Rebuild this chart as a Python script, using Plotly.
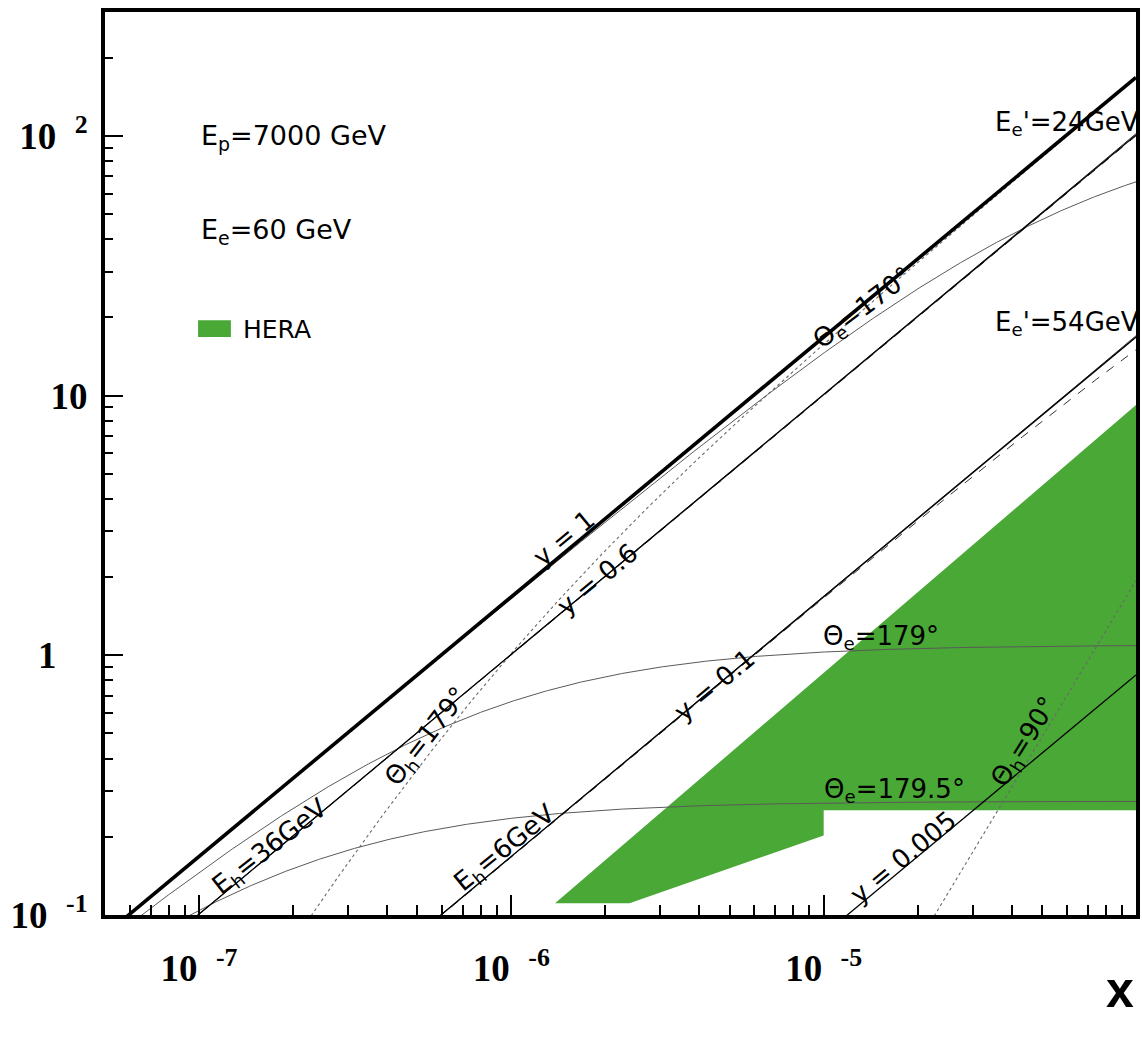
import numpy as np
import plotly.graph_objects as go

# Beam energies (GeV)
EP = 7000.0
EE = 60.0
S = 4.0 * EE * EP

# Isoline parameters
Y_LINES = [1.0, 0.6, 0.1, 0.005]
THETA_E = [170.0, 179.0, 179.5]      # scattered electron angle (deg)
E_E_PRIME = [24.0, 54.0]             # scattered electron energy (GeV)
THETA_H = [179.0, 90.0]              # hadronic final state angle (deg)
E_H = [36.0, 6.0]                    # hadronic final state energy (GeV)

# HERA kinematic coverage outline
HERA_X = [1.38e-6, 2.39e-6, 1.0e-5, 1.0e-5, 1.0e-4, 1.0e-4]
HERA_Q2 = [0.111, 0.111, 0.2025, 0.253, 0.253, 9.2]

# Legend swatch corners for the HERA entry
SWATCH_X = [9.93e-8, 1.265e-7]
SWATCH_Q2 = [16.8, 19.5]

# Axis extent and ticks
X_MIN, X_MAX = 5e-8, 1e-4
Q2_MIN, Q2_MAX = 0.1, 300.0
X_TICKS = [1e-7, 1e-6, 1e-5]
X_TICK_TEXT = ["10\u2002<sup>-7</sup>", "10\u2002<sup>-6</sup>", "10\u2002<sup>-5</sup>"]
Y_TICKS = [0.1, 1.0, 10.0, 100.0]
Y_TICK_TEXT = ["10\u2002<sup>-1</sup>", "", "10", "10\u2002<sup>2</sup>"]
Y_UNIT_LABEL = "1"   # label of the Q2 = 1 tick, set slightly left of the others

HERA_GREEN = "#49a836"

x = np.logspace(np.log10(X_MIN), np.log10(X_MAX), 600)
sx = S * x


def q2_const_y(y):
    return sx * y


def q2_const_theta_e(theta):
    t2 = np.tan(np.radians(theta) / 2.0) ** 2
    return 1.0 / (1.0 / sx + t2 / (4.0 * EE ** 2))


def q2_const_ee_prime(ep):
    return sx * (1.0 - ep / EE) / (1.0 - EP * x / EE)


def q2_const_theta_h(theta):
    b = 4.0 * EE ** 2 / np.tan(np.radians(theta) / 2.0) ** 2
    return sx ** 2 / (sx + b)


def q2_const_eh(eh):
    y = (eh - x * EP) / (EE - x * EP)
    return sx * y


fig = go.Figure()

# HERA region
fig.add_trace(go.Scatter(
    x=HERA_X, y=HERA_Q2, fill="toself", mode="none",
    fillcolor=HERA_GREEN, hoverinfo="skip", showlegend=False))

# HERA legend swatch
fig.add_trace(go.Scatter(
    x=[SWATCH_X[0], SWATCH_X[1], SWATCH_X[1], SWATCH_X[0]],
    y=[SWATCH_Q2[0], SWATCH_Q2[0], SWATCH_Q2[1], SWATCH_Q2[1]],
    fill="toself", mode="none", fillcolor=HERA_GREEN,
    hoverinfo="skip", showlegend=False))

line_sets = []
for th in THETA_E:
    line_sets.append((q2_const_theta_e(th), dict(color="#5a5a5a", width=1.0)))
for th in THETA_H:
    line_sets.append((q2_const_theta_h(th), dict(color="#6a6a6a", width=1.1, dash="dot")))
for eh in E_H:
    line_sets.append((q2_const_eh(eh), dict(color="#333333", width=1.0, dash="dash")))
for ep in E_E_PRIME:
    line_sets.append((q2_const_ee_prime(ep), dict(color="#303030", width=1.0)))
for yv in Y_LINES:
    w = 3.6 if yv == 1.0 else 1.3
    line_sets.append((q2_const_y(yv), dict(color="black", width=w)))

for q2, style in line_sets:
    q2 = np.where(q2 > 0, q2, np.nan)
    fig.add_trace(go.Scatter(x=x, y=q2, mode="lines", line=style,
                             hoverinfo="skip", showlegend=False))

LABEL_FONT = dict(family="DejaVu Sans", size=26, color="black")

# (text, x, Q2, angle, xanchor)
labels = [
    ("y = 1", 1.476e-6, 2.82, -39.6, "center"),
    ("y = 0.6", 1.89e-6, 1.96, -39.6, "center"),
    ("y = 0.1", 4.47e-6, 0.766, -39.6, "center"),
    ("y = 0.005", 1.80e-5, 0.167, -39.6, "center"),
    ("\u0398<sub>e</sub>=170\u00b0", 1.34e-5, 21.7, -37, "center"),
    ("\u0398<sub>e</sub>=179\u00b0", 1.53e-5, 1.17, 0, "center"),
    ("\u0398<sub>e</sub>=179.5\u00b0", 1.69e-5, 0.302, 0, "center"),
    ("\u0398<sub>h</sub>=90\u00b0", 4.40e-5, 0.462, -58, "center"),
    ("\u0398<sub>h</sub>=179\u00b0", 5.36e-7, 0.483, -52, "center"),
    ("E<sub>h</sub>=36GeV", 1.69e-7, 0.182, -38, "center"),
    ("E<sub>h</sub>=6GeV", 9.57e-7, 0.180, -39, "center"),
    ("E<sub>e</sub>'=24GeV", 3.48e-5, 112.0, 0, "left"),
    ("E<sub>e</sub>'=54GeV", 3.48e-5, 18.9, 0, "left"),
]

annotations = []
for text, lx, lq, ang, xa in labels:
    annotations.append(dict(
        x=np.log10(lx), y=np.log10(lq), xref="x", yref="y", text=text,
        textangle=ang, showarrow=False, xanchor=xa, yanchor="middle",
        font=LABEL_FONT))

TICK_FONT = dict(family="Liberation Serif", size=37, color="black", weight="bold")

LEG_FONT = dict(family="DejaVu Sans", size=27, color="black")
annotations += [
    dict(x=np.log10(1.0e-7), y=np.log10(99.0), xref="x", yref="y",
         text="E<sub>p</sub>=7000 GeV", showarrow=False, xanchor="left",
         yanchor="middle", font=LEG_FONT),
    dict(x=np.log10(1.0e-7), y=np.log10(42.7), xref="x", yref="y",
         text="E<sub>e</sub>=60 GeV", showarrow=False, xanchor="left",
         yanchor="middle", font=LEG_FONT),
    dict(x=np.log10(1.36e-7), y=np.log10(18.0), xref="x", yref="y",
         text="HERA", showarrow=False, xanchor="left", yanchor="middle",
         font=dict(family="DejaVu Sans", size=25, color="black")),
    dict(x=1.0, y=-0.083, xref="paper", yref="paper", text="x",
         showarrow=False, xanchor="right", yanchor="middle",
         font=dict(family="Liberation Sans", size=50, color="black", weight="bold")),
    dict(x=-0.045, y=0.0, xref="paper", yref="y", text=Y_UNIT_LABEL,
         showarrow=False, xanchor="right", yanchor="middle", font=TICK_FONT),
]

x_minor = [d * m for d in [1e-8, 1e-7, 1e-6, 1e-5] for m in range(2, 10)
           if X_MIN < d * m < X_MAX]
y_minor = [d * m for d in [0.1, 1.0, 10.0, 100.0] for m in range(2, 10)
           if Q2_MIN < d * m < Q2_MAX]

fig.update_layout(
    width=1142, height=1037,
    margin=dict(l=105, r=2, t=12, b=122),
    paper_bgcolor="white", plot_bgcolor="white",
    annotations=annotations,
    xaxis=dict(
        type="log", range=[np.log10(X_MIN), np.log10(X_MAX)],
        showline=True, linewidth=4, linecolor="black", mirror=True,
        ticks="inside", ticklen=20, tickwidth=1.5, tickcolor="black",
        tickvals=X_TICKS, ticktext=X_TICK_TEXT, tickfont=TICK_FONT,
        ticklabelstandoff=18,
        showgrid=False, zeroline=False,
        minor=dict(ticks="inside", ticklen=10, tickwidth=1.5,
                   tickcolor="black", tickvals=x_minor, showgrid=False),
    ),
    yaxis=dict(
        type="log", range=[np.log10(Q2_MIN), np.log10(Q2_MAX)],
        showline=True, linewidth=4, linecolor="black", mirror=True,
        ticks="inside", ticklen=18, tickwidth=1.5, tickcolor="black",
        tickvals=Y_TICKS, ticktext=Y_TICK_TEXT, tickfont=TICK_FONT,
        ticklabelstandoff=6,
        showgrid=False, zeroline=False,
        minor=dict(ticks="inside", ticklen=8, tickwidth=1.5,
                   tickcolor="black", tickvals=y_minor, showgrid=False),
    ),
)

fig.write_html("out.html")
